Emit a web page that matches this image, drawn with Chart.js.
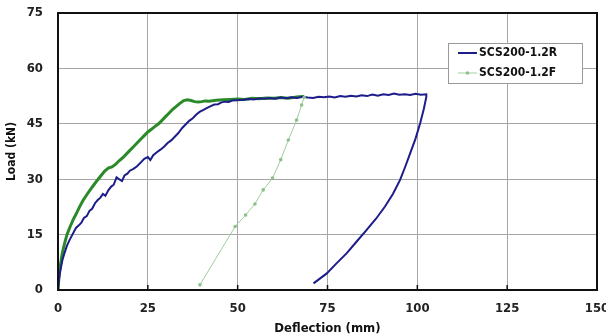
<!DOCTYPE html>
<html lang="en">
<head>
    <meta charset="UTF-8">
    <title>Load - Deflection</title>
    <script src="https://cdn.jsdelivr.net/npm/chart.js"></script>
    <style>
        html, body { margin: 0; padding: 0; background: #fff; }
        #wrap { width: 606px; height: 336px; }
    </style>
</head>
<body>
<div id="wrap"><canvas id="loadChart" width="606" height="336"></canvas></div>
<script>
    // series names
    var seriesR = "SCS200-1.2R";
    var seriesF = "SCS200-1.2F";

    // SCS200-1.2R : deflection (mm) / load (kN), loading then unloading
    var rDefl = [0, 0.3, 0.7, 1.2, 1.8, 2.5, 3.2, 4, 5, 5.8, 6.5, 7.2, 8, 8.8, 9.5, 10.3, 11, 11.8, 12.5, 13.2,
        14, 14.8, 15.5, 16.3, 17, 17.8, 18.5, 19.3, 20, 21, 22, 23, 24, 25, 25.7, 26.5, 27.5, 28.5, 29.5, 30.5,
        31.5, 32.5, 33.5, 34.5, 35.5, 36.5, 37.5, 38.5, 39.5, 40.5, 41.5, 42.5, 43.5, 44.5, 45.5, 46.5, 47.5, 48.5,
        50, 51.5, 53, 54.5, 56, 57.5, 59, 60.5, 62, 63.5, 65, 66.5, 68, 69.5, 71, 72.5, 74, 75.5, 77, 78.5, 80,
        81.5, 83, 84.5, 86, 87.5, 89, 90.5, 92, 93.5, 95, 96.5, 98, 99.5, 101, 102.5,
        102.5, 101.8, 100.8, 99.5, 98, 96.6, 95.2, 93.2, 91, 88.5, 85.9, 83, 80.3, 77.5, 74.8, 72.5, 71.1];
    var rLoad = [0, 3, 5.5, 8, 10, 12, 13.5, 15, 16.8, 17.5, 18.2, 19.5, 20, 21.5, 22, 23.5, 24.3, 25, 26, 25.5,
        27, 28, 28.5, 30.5, 30, 29.5, 31, 31.5, 32.3, 32.8, 33.5, 34.5, 35.5, 36, 35.2, 36.5, 37.3, 38, 38.8, 39.8,
        40.5, 41.5, 42.5, 43.8, 44.8, 45.8, 46.5, 47.5, 48.3, 48.8, 49.3, 49.8, 50.2, 50.3, 50.8, 51, 50.9, 51.3,
        51.4, 51.5, 51.7, 51.6, 51.9, 51.8, 52, 51.8, 52.1, 51.9, 52.2, 52, 52.3, 52.1, 52, 52.3, 52.2, 52.4, 52.1, 52.5, 52.3,
        52.6, 52.4, 52.7, 52.5, 52.9, 52.6, 53, 52.8, 53.2, 52.9, 53, 52.8, 53.1, 52.9, 53,
        52.3, 49, 45.2, 41, 37, 33.3, 29.8, 26, 22.6, 19.3, 16.3, 13, 9.9, 7.2, 4.5, 2.8, 1.8];

    // SCS200-1.2F : loading branch
    var fDefl = [0, 0.3, 0.7, 1.2, 1.8, 2.5, 3.3, 4.2, 5, 6, 7, 8, 9, 10, 11, 12, 13, 14, 15, 16, 17, 18, 19, 20,
        21, 22, 23, 24, 25, 26, 27, 28, 29, 30, 31, 32, 33, 34, 35, 36, 37, 38, 39, 40, 41, 42, 44, 46, 48, 50,
        52, 54, 56, 58, 60, 62, 64, 66, 67, 68.5];
    var fLoad = [0, 4, 7, 10, 12.5, 15, 17, 19, 20.5, 22.5, 24.3, 25.8, 27.2, 28.5, 29.8, 31, 32.2, 33, 33.3, 34, 35, 35.8, 36.8, 37.8,
        38.8, 39.8, 40.8, 41.8, 42.8, 43.5, 44.3, 45, 46, 47, 48, 49, 49.8, 50.6, 51.3, 51.5, 51.3, 51, 50.9, 51, 51.2, 51.1, 51.4, 51.5, 51.6, 51.7,
        51.6, 51.9, 51.8, 52, 51.9, 52.1, 51.9, 52.2, 52.3, 52.4];

    // SCS200-1.2F : unloading branch (marked points)
    var fuDefl = [68.5, 67.8, 66.4, 64.1, 62, 59.7, 57.1, 54.8, 52.2, 49.3, 39.5];
    var fuLoad = [52.2, 50.1, 46, 40.6, 35.3, 30.3, 27.1, 23.3, 20.3, 17.2, 1.4];

    var xTicks = [0, 25, 50, 75, 100, 125, 150];
    var yTicks = [0, 15, 30, 45, 60, 75];

    var fontFamily = "'Liberation Sans Narrow', 'DejaVu Sans Condensed', Arial, sans-serif";

    function toPoints(xs, ys) {
        var pts = [];
        for (var i = 0; i < xs.length; i++) {
            pts.push({ x: xs[i], y: ys[i] });
        }
        return pts;
    }

    // frame, inner x ticks and legend box
    var framePlugin = {
        id: "frame",
        afterDatasetsDraw: function(chart) {
            var ctx = chart.ctx;
            var a = chart.chartArea;
            var xs = chart.scales.x;
            ctx.save();
            ctx.strokeStyle = "#111";
            ctx.lineWidth = 1.5;
            for (var i = 1; i < xTicks.length - 1; i++) {
                var px = xs.getPixelForValue(xTicks[i]);
                ctx.beginPath();
                ctx.moveTo(px, a.bottom);
                ctx.lineTo(px, a.bottom - 5);
                ctx.stroke();
            }
            ctx.lineWidth = 2;
            ctx.strokeRect(a.left, a.top, a.right - a.left, a.bottom - a.top);

            // legend
            var lx = 448, ly = 43, lw = 134, lh = 40;
            ctx.fillStyle = "#fff";
            ctx.fillRect(lx, ly, lw, lh);
            ctx.strokeStyle = "#9a9a9a";
            ctx.lineWidth = 1;
            ctx.strokeRect(lx + 0.5, ly + 0.5, lw, lh);

            ctx.font = "bold 12px " + fontFamily;
            ctx.textBaseline = "middle";
            ctx.fillStyle = "#111";

            ctx.strokeStyle = "#1c1c8a";
            ctx.lineWidth = 2;
            ctx.beginPath();
            ctx.moveTo(458, 53);
            ctx.lineTo(477, 53);
            ctx.stroke();
            ctx.fillText(seriesR, 479, 53);

            ctx.strokeStyle = "#9dcf9d";
            ctx.lineWidth = 1;
            ctx.beginPath();
            ctx.moveTo(458, 73);
            ctx.lineTo(477, 73);
            ctx.stroke();
            ctx.fillStyle = "#8cbf8c";
            ctx.beginPath();
            ctx.arc(467.5, 73, 1.8, 0, Math.PI * 2);
            ctx.fill();
            ctx.fillStyle = "#111";
            ctx.fillText(seriesF, 479, 73);
            ctx.restore();
        }
    };

    new Chart(document.getElementById("loadChart"), {
        type: "scatter",
        data: {
            datasets: [
                {
                    label: seriesF + " unloading",
                    data: toPoints(fuDefl, fuLoad),
                    showLine: true,
                    borderColor: "#9dcf9d",
                    borderWidth: 1,
                    pointRadius: 1.8,
                    pointBackgroundColor: "#8cbf8c",
                    pointBorderWidth: 0
                },
                {
                    label: seriesR,
                    data: toPoints(rDefl, rLoad),
                    showLine: true,
                    borderColor: "#1c1c8a",
                    borderWidth: 2,
                    pointRadius: 0
                },
                {
                    label: seriesF,
                    data: toPoints(fDefl, fLoad),
                    showLine: true,
                    borderColor: "#2a8a2a",
                    borderWidth: 3,
                    pointRadius: 0
                }
            ]
        },
        options: {
            responsive: false,
            animation: false,
            layout: { padding: { top: 13, right: 9, left: 0, bottom: 0 } },
            plugins: {
                legend: { display: false },
                tooltip: { enabled: false }
            },
            scales: {
                x: {
                    type: "linear",
                    min: 0,
                    max: 150,
                    afterBuildTicks: function(scale) {
                        scale.ticks = xTicks.map(function(v) { return { value: v }; });
                    },
                    afterFit: function(scale) {
                        scale.height = 46;
                        scale.paddingLeft = 0;
                        scale.paddingRight = 0;
                    },
                    grid: { color: "#a6a6a6", lineWidth: 1, drawTicks: false },
                    border: { display: false },
                    ticks: {
                        color: "#222",
                        padding: 11,
                        maxRotation: 0,
                        font: { family: fontFamily, size: 13, weight: "bold" }
                    },
                    title: {
                        display: true,
                        text: "Deflection (mm)",
                        color: "#111",
                        padding: { top: 2, bottom: 0 },
                        font: { family: fontFamily, size: 13, weight: "bold" }
                    }
                },
                y: {
                    type: "linear",
                    min: 0,
                    max: 75,
                    afterBuildTicks: function(scale) {
                        scale.ticks = yTicks.map(function(v) { return { value: v }; });
                    },
                    afterFit: function(scale) {
                        scale.width = 58;
                        scale.paddingTop = 0;
                        scale.paddingBottom = 0;
                    },
                    grid: { color: "#a6a6a6", lineWidth: 1, drawTicks: false },
                    border: { display: false },
                    ticks: {
                        color: "#222",
                        padding: 15,
                        font: { family: fontFamily, size: 13, weight: "bold" }
                    },
                    title: {
                        display: true,
                        text: "Load (kN)",
                        color: "#111",
                        padding: { top: 5, bottom: 0 },
                        font: { family: fontFamily, size: 12, weight: "bold" }
                    }
                }
            }
        },
        plugins: [framePlugin]
    });
</script>
</body>
</html>
